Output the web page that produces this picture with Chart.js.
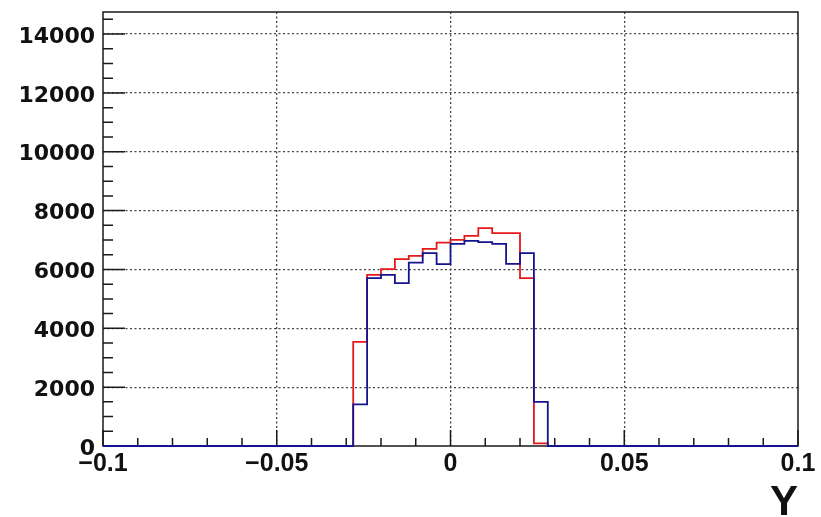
<!DOCTYPE html>
<html>
<head>
<meta charset="utf-8">
<script src="https://cdn.jsdelivr.net/npm/chart.js@4.4.1/dist/chart.umd.min.js"></script>
<style>
  html, body { margin: 0; padding: 0; background: #fff; }
  #wrap { width: 821px; height: 517px; position: relative; }
</style>
</head>
<body>
<div id="wrap"><canvas id="myChart"></canvas></div>
<script>
// histogram binning: 50 bins over [-0.1, 0.1]
const xMin = -0.1;
const xMax = 0.1;
const nBins = 50;
const firstBin = 18; // first non-empty bin (x = -0.028)

// counts of the non-empty bins
const redCounts = [3537, 5816, 6010, 6350, 6462, 6700, 6915, 7007, 7143, 7404, 7234, 7234, 5703, 91];
const blueCounts = [1417, 5703, 5816, 5533, 6235, 6553, 6179, 6871, 6973, 6927, 6871, 6190, 6553, 1497];

const yMax = 14750;
const xTickValues = [-0.1, -0.05, 0, 0.05, 0.1];
const xTickLabels = ["\u22120.1", "\u22120.05", "0", "0.05", "0.1"];
const yTickValues = [0, 2000, 4000, 6000, 8000, 10000, 12000, 14000];
const yTickLabels = ["0", "2000", "4000", "6000", "8000", "10000", "12000", "14000"];
const xTitle = "Y";

function histPoints(counts) {
  const w = (xMax - xMin) / nBins;
  const pts = [];
  for (let i = 0; i < nBins; i++) {
    const j = i - firstBin;
    const c = j >= 0 && j < counts.length ? counts[j] : 0;
    pts.push({ x: xMin + i * w, y: c });
  }
  pts.push({ x: xMax, y: pts[nBins - 1].y });
  return pts;
}

function labelFor(values, labels, v) {
  const k = values.findIndex((t) => Math.abs(t - v) < 1e-9);
  return k >= 0 ? labels[k] : "";
}

// ROOT-like frame with inward tick marks (minor every 0.01 / 500)
const rootFrame = {
  id: "rootFrame",
  beforeDatasetsDraw(chart) {
    const { ctx, chartArea: a, scales: { x, y } } = chart;
    ctx.save();
    ctx.strokeStyle = "#1a1a1a";
    ctx.lineWidth = 1.5;
    ctx.beginPath();
    for (let k = 0; k <= 20; k++) {
      const px = x.getPixelForValue(xMin + k * 0.01);
      const len = k % 5 === 0 ? 16 : 8;
      ctx.moveTo(px, a.bottom);
      ctx.lineTo(px, a.bottom - len);
    }
    for (let v = 0; v <= yMax; v += 500) {
      const py = y.getPixelForValue(v);
      const len = v % 2000 === 0 ? 22 : 10;
      ctx.moveTo(a.left, py);
      ctx.lineTo(a.left + len, py);
    }
    ctx.stroke();
    ctx.strokeRect(a.left, a.top, a.right - a.left, a.bottom - a.top);
    ctx.restore();
  },
};

const chart = new Chart(document.getElementById("myChart"), {
  type: "line",
  plugins: [rootFrame],
  data: {
    datasets: [
      {
        label: "red",
        data: histPoints(redCounts),
        stepped: "before",
        borderColor: "#e41a1a",
        borderWidth: 1.8,
        pointRadius: 0,
        fill: false,
        clip: 4,
        order: 1,
      },
      {
        label: "blue",
        data: histPoints(blueCounts),
        stepped: "before",
        borderColor: "#14148f",
        borderWidth: 1.8,
        pointRadius: 0,
        fill: false,
        clip: 4,
        order: 0,
      },
    ],
  },
  options: {
    animation: false,
    responsive: true,
    maintainAspectRatio: false,
    layout: { padding: { left: 0, right: 23, top: 12, bottom: 0 } },
    scales: {
      x: {
        type: "linear",
        min: xMin,
        max: xMax,
        afterBuildTicks: (s) => { s.ticks = xTickValues.map((v) => ({ value: v })); },
        afterFit: (s) => { s.height = 71; },
        border: { display: false, dash: [2, 2.5] },
        grid: {
          drawTicks: false,
          lineWidth: 1.3,
          color: (c) => (c.tick && Math.abs(c.tick.value) < 0.099 ? "#444" : "transparent"),
        },
        ticks: {
          autoSkip: false,
          maxRotation: 0,
          minRotation: 0,
          padding: 3,
          color: "#111",
          font: { family: "'Liberation Sans', Arial, sans-serif", weight: "bold", size: 25 },
          callback: (v) => labelFor(xTickValues, xTickLabels, v),
        },
        title: {
          display: true,
          text: xTitle,
          align: "end",
          color: "#111",
          padding: 0,
          font: { family: "'Liberation Sans Narrow', 'Liberation Sans', sans-serif", weight: "bold", size: 42, lineHeight: 0.65 },
        },
      },
      y: {
        type: "linear",
        min: 0,
        max: yMax,
        afterBuildTicks: (s) => { s.ticks = yTickValues.map((v) => ({ value: v })); },
        afterFit: (s) => { s.width = 103; },
        border: { display: false, dash: [2, 2.5] },
        grid: {
          drawTicks: false,
          lineWidth: 1.3,
          color: (c) => (c.tick && c.tick.value > 0 ? "#444" : "transparent"),
        },
        ticks: {
          autoSkip: false,
          padding: 8,
          labelOffset: 3,
          color: "#111",
          font: { family: "'DejaVu Sans', sans-serif", weight: "bold", size: 22, lineHeight: 0.01 },
          callback: (v) => labelFor(yTickValues, yTickLabels, v),
        },
      },
    },
    plugins: {
      legend: { display: false },
      tooltip: { enabled: false },
    },
  },
});
</script>
</body>
</html>
